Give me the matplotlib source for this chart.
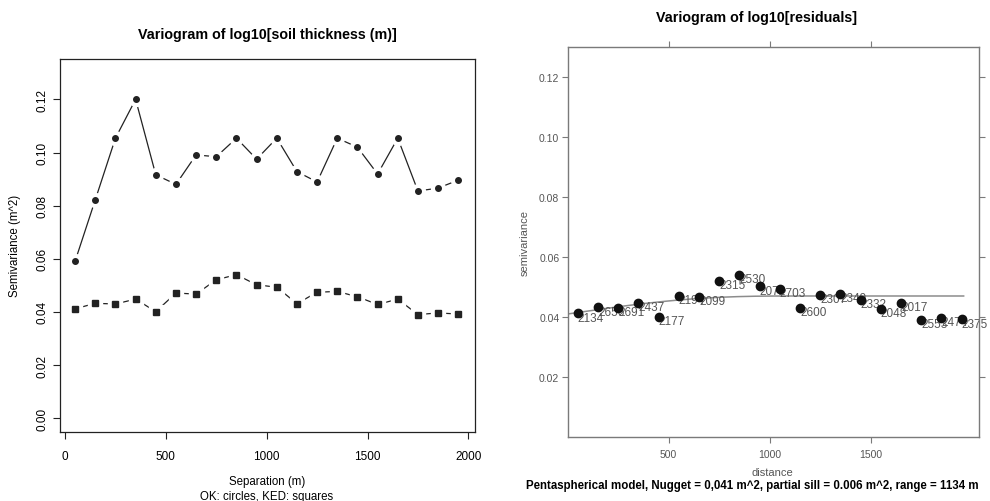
import matplotlib
matplotlib.use("Agg")
import matplotlib.pyplot as plt
import numpy as np

plt.rcParams["font.family"] = ["Liberation Sans", "DejaVu Sans"]

# ---------- data ----------
lag = [50, 150, 250, 350, 450, 550, 650, 750, 850, 950,
       1050, 1150, 1250, 1350, 1450, 1550, 1650, 1750, 1850, 1950]
ok_gamma = [0.0591, 0.0822, 0.1054, 0.1200, 0.0916, 0.0880, 0.0991, 0.0984, 0.1054, 0.0975,
            0.1054, 0.0928, 0.0889, 0.1054, 0.1020, 0.0919, 0.1054, 0.0855, 0.0866, 0.0896]
ked_gamma = [0.0412, 0.0432, 0.0430, 0.0448, 0.0401, 0.0471, 0.0467, 0.0521, 0.0540, 0.0502,
             0.0493, 0.0431, 0.0474, 0.0477, 0.0457, 0.0428, 0.0448, 0.0390, 0.0396, 0.0392]
n_pairs = ["2134", "2656", "2691", "2437", "2177", "2194", "2099", "2315", "2530", "2072",
           "2703", "2600", "2307", "2349", "2332", "2048", "2017", "2553", "2474", "2375"]
nugget, psill, vrange = 0.041, 0.006, 1134.0

# ---------- figure ----------
fig = plt.figure(figsize=(9.9, 5.02), dpi=100)

# ---------- left: OK vs KED empirical variograms ----------
ax = fig.add_axes([0.0606, 0.1375, 0.4192, 0.743])
ink = "#222222"
ax.plot(lag, ok_gamma, "-", color=ink, lw=0.9, zorder=1)
ax.plot(lag, ked_gamma, "-", color=ink, lw=0.9, zorder=1)
# white halos give the R type="b" gaps around the points
ax.plot(lag, ok_gamma, "o", ms=10, color="white", zorder=2)
ax.plot(lag, ked_gamma, "s", ms=10, color="white", zorder=2)
ax.plot(lag, ok_gamma, "o", ms=4, color=ink, zorder=3)
ax.plot(lag, ked_gamma, "s", ms=4, color=ink, zorder=3)
ax.set_xlim(-25, 2033)
ax.set_ylim(-0.0052, 0.1352)
ax.set_xticks([0, 500, 1000, 1500, 2000])
ax.set_yticks([0.0, 0.02, 0.04, 0.06, 0.08, 0.10, 0.12])
ax.set_yticklabels(["0.00", "0.02", "0.04", "0.06", "0.08", "0.10", "0.12"],
                   rotation=90, va="center")
ax.tick_params(direction="out", length=5, width=0.8, labelsize=8.5, color=ink)
ax.tick_params(axis="x", pad=8)
ax.tick_params(axis="y", pad=3.5)
for s in ax.spines.values():
    s.set_linewidth(0.9)
    s.set_color(ink)
fig.text(267 / 990, 1 - 35 / 502, "Variogram of log10[soil thickness (m)]",
         ha="center", va="center", fontsize=10.3, fontweight="bold")
fig.text(15 / 990, 1 - 246 / 502, "Semivariance (m^2)", rotation=90,
         ha="center", va="center", fontsize=8.3)
fig.text(267 / 990, 1 - 482 / 502, "Separation (m)", ha="center", va="center", fontsize=8.3)
fig.text(267 / 990, 1 - 497 / 502, "OK: circles, KED: squares", ha="center", va="center",
         fontsize=8.3)

# ---------- right: residual variogram with fitted model ----------
grey = "#7a7a7a"
ax2 = fig.add_axes([0.5734, 0.1275, 0.4155, 0.7769])
h = np.linspace(0, 1960, 400)
r = np.clip(h / vrange, 0, 1)
model = nugget + psill * (15 / 8 * r - 5 / 4 * r ** 3 + 3 / 8 * r ** 5)
ax2.plot(h, model, color="#8c8c8c", lw=1.1, zorder=1)
ax2.plot(lag, ked_gamma, "o", ms=6, color="#111111", zorder=3)
for xi, yi, lab in zip(lag, ked_gamma, n_pairs):
    ax2.annotate(lab, (xi, yi), xytext=(0, -3), textcoords="offset points",
                 ha="left", va="center", fontsize=8.5, color="#555555", zorder=2)
ax2.set_xlim(0, 2036)
ax2.set_ylim(0, 0.13)
ax2.set_xticks([500, 1000, 1500])
ax2.set_yticks([0.02, 0.04, 0.06, 0.08, 0.10, 0.12])
ax2.set_yticklabels(["0.02", "0.04", "0.06", "0.08", "0.10", "0.12"])
ax2.tick_params(direction="out", length=4.5, width=0.8, labelsize=7.5, color=grey,
                labelcolor="#555555", top=True, right=True)
ax2.tick_params(axis="x", pad=4)
ax2.tick_params(axis="y", pad=1.5)
for s in ax2.spines.values():
    s.set_linewidth(1.0)
    s.set_color(grey)
fig.text(757 / 990, 1 - 18 / 502, "Variogram of log10[residuals]",
         ha="center", va="center", fontsize=10.3, fontweight="bold")
fig.text(525 / 990, 1 - 243 / 502, "semivariance", rotation=90,
         ha="center", va="center", fontsize=8, color="#555555")
fig.text(772 / 990, 1 - 473 / 502, "distance", ha="center", va="center",
         fontsize=8, color="#555555")
fig.text(752 / 990, 1 - 486 / 502,
         "Pentaspherical model, Nugget = 0,041 m^2, partial sill = 0.006 m^2, range = 1134 m",
         ha="center", va="center", fontsize=8.3, fontweight="bold")

fig.savefig("out.png", dpi=100)
